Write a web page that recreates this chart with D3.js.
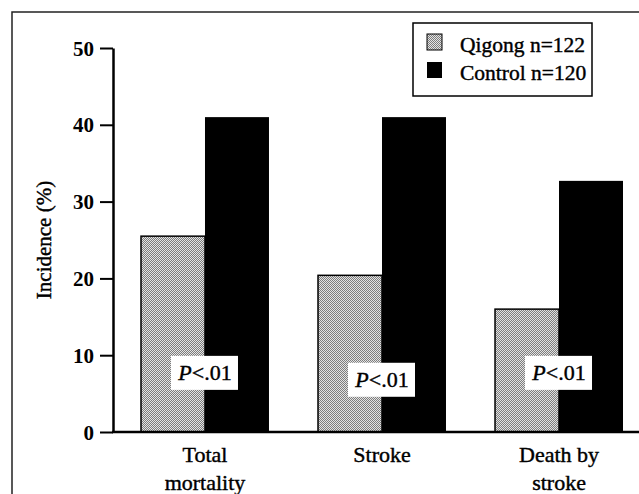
<!DOCTYPE html>
<html>
<head>
<meta charset="utf-8">
<script src="https://cdn.jsdelivr.net/npm/d3@7"></script>
<style>
  body { margin: 0; background: #fff; }
  .lbl { stroke: #000; stroke-width: 0.4px; }
</style>
</head>
<body>
<div class="card"></div>
<script>
// values
var categories = ["Total mortality", "Stroke", "Death by stroke"];
var seriesNames = ["Qigong n=122", "Control n=120"];
var qigong = [25.5, 20.4, 16.0];
var control = [41.0, 41.0, 32.7];
var pLabels = ["P<.01", "P<.01", "P<.01"];
var pLevel = [7.7, 6.8, 7.7];   // where the p-value boxes sit (in %)
var yTicks = [0, 10, 20, 30, 40, 50];

var width = 639,
    height = 494;
var serif = "'Liberation Serif', 'Times New Roman', 'DejaVu Serif', serif";

var svg = d3.select(".card").append("svg")
    .attr("width", width)
    .attr("height", height)
    .attr("font-family", serif);

// checker dither like the printed halftone
var defs = svg.append("defs");
var pat = defs.append("pattern")
    .attr("id", "dots")
    .attr("width", 2).attr("height", 2)
    .attr("patternUnits", "userSpaceOnUse");
pat.append("rect").attr("width", 2).attr("height", 2).attr("fill", "#e4e4e4");
pat.append("rect").attr("width", 1).attr("height", 1).attr("fill", "#7c7c7c");
pat.append("rect").attr("x", 1).attr("y", 1).attr("width", 1).attr("height", 1).attr("fill", "#7c7c7c");

// outer frame (cut off at right / bottom)
svg.append("path")
    .attr("d", "M12,494V12H639")
    .attr("fill", "none")
    .attr("stroke", "#222")
    .attr("stroke-width", 1.5);

var y = d3.scaleLinear().domain([0, 50]).range([432, 48]);

var x0 = d3.scaleBand()
    .domain(categories)
    .range([141, 623])
    .paddingInner(0.277)
    .paddingOuter(0);

var x1 = d3.scaleBand()
    .domain(seriesNames)
    .range([0, x0.bandwidth()]);

var fills = ["url(#dots)", "#000"];

var rows = categories.map(function(c, i) {
    return { cat: c, vals: [qigong[i], control[i]] };
});

var groups = svg.selectAll(".grp").data(rows).enter().append("g")
    .attr("class", "grp")
    .attr("transform", function(d) { return "translate(" + x0(d.cat) + ",0)"; });

groups.selectAll("rect").data(function(d) {
        return d.vals.map(function(v, j) { return { s: seriesNames[j], v: v, j: j }; });
    }).enter().append("rect")
    .attr("x", function(d) { return x1(d.s); })
    .attr("width", x1.bandwidth())
    .attr("y", function(d) { return y(d.v); })
    .attr("height", function(d) { return y(0) - y(d.v); })
    .attr("fill", function(d) { return fills[d.j]; })
    .attr("stroke", "#000")
    .attr("stroke-width", function(d) { return d.j == 0 ? 1.5 : 0; });

// p-value boxes
var pg = svg.selectAll(".pbox").data(categories).enter().append("g")
    .attr("class", "pbox")
    .attr("transform", function(d, i) {
        return "translate(" + (x0(d) + x0.bandwidth() / 2) + "," + y(pLevel[i]) + ")";
    });
pg.append("rect")
    .attr("x", -34).attr("y", -17)
    .attr("width", 67).attr("height", 34)
    .attr("fill", "#fff");
var pt = pg.append("text")
    .attr("class", "lbl")
    .attr("text-anchor", "middle")
    .attr("y", 7)
    .attr("font-size", 22);
pt.append("tspan").attr("font-style", "italic").text(function(d, i) { return pLabels[i].slice(0, 1); });
pt.append("tspan").text(function(d, i) { return pLabels[i].slice(1); });

// y axis
var yAxis = svg.append("g")
    .attr("transform", "translate(113,0)")
    .call(d3.axisLeft(y).tickValues(yTicks).tickSize(13).tickSizeOuter(0).tickPadding(6))
    .attr("font-family", serif)
    .attr("font-size", 21)
    .attr("font-weight", "bold");
yAxis.select(".domain").attr("stroke", "#000").attr("stroke-width", 2.5);
yAxis.selectAll(".tick line").attr("stroke", "#000").attr("stroke-width", 2);
yAxis.selectAll(".tick text").attr("fill", "#000").attr("dy", "0.34em");

// baseline
svg.append("line")
    .attr("x1", 112).attr("x2", width)
    .attr("y1", y(0)).attr("y2", y(0))
    .attr("stroke", "#000")
    .attr("stroke-width", 2.5);

// category labels
var xAxis = svg.append("g")
    .attr("transform", "translate(0," + y(0) + ")")
    .call(d3.axisBottom(x0).tickSize(0).tickPadding(0))
    .attr("font-family", serif)
    .attr("font-size", 22);
xAxis.select(".domain").remove();
xAxis.selectAll(".tick text").each(function(d) {
    var t = d3.select(this);
    var words = d == "Total mortality" ? ["Total", "mortality"]
              : d == "Death by stroke" ? ["Death by", "stroke"] : [d];
    t.text(null).attr("y", 0).attr("dy", null).attr("fill", "#000").attr("class", "lbl");
    words.forEach(function(w, k) {
        t.append("tspan").attr("x", 0).attr("y", 30 + k * 28).text(w);
    });
});

// y label
svg.append("text")
    .attr("class", "lbl")
    .attr("transform", "translate(51,240) rotate(-90)")
    .attr("text-anchor", "middle")
    .attr("font-size", 21)
    .text("Incidence (%)");

// legend
var lg = svg.append("g").attr("transform", "translate(413,23)");
lg.append("rect")
    .attr("width", 179).attr("height", 73)
    .attr("fill", "#fff")
    .attr("stroke", "#000")
    .attr("stroke-width", 1.5);
var li = lg.selectAll(".li").data(seriesNames).enter().append("g")
    .attr("class", "li")
    .attr("transform", function(d, i) { return "translate(0," + (i * 28) + ")"; });
li.append("rect")
    .attr("x", 14).attr("y", 11)
    .attr("width", 15).attr("height", 16)
    .attr("fill", function(d, i) { return fills[i]; })
    .attr("stroke", "#000")
    .attr("stroke-width", function(d, i) { return i == 0 ? 1 : 0; });
li.append("text")
    .attr("class", "lbl")
    .attr("x", 47).attr("y", 29)
    .attr("font-size", 21.5)
    .text(function(d) { return d; });
</script>
</body>
</html>
